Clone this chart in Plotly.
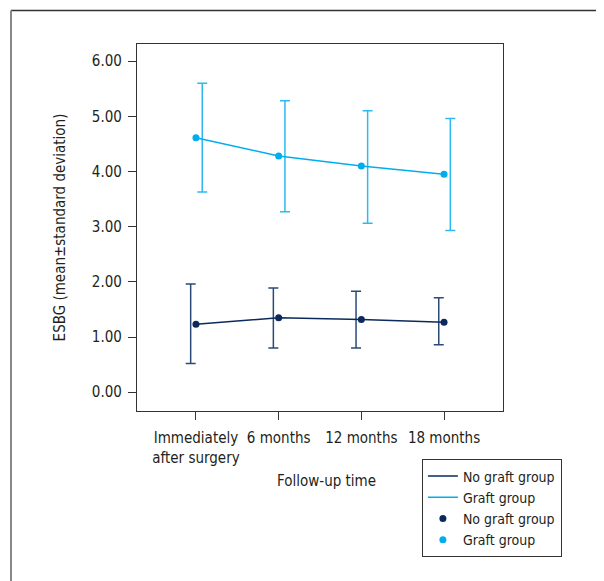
import plotly.graph_objects as go

categories = ["Immediately<br>after surgery", "6 months", "12 months", "18 months"]
no_graft_mean = [1.23, 1.35, 1.32, 1.27]
no_graft_sd_plus = [0.73, 0.54, 0.51, 0.44]
no_graft_sd_minus = [0.71, 0.55, 0.52, 0.41]
graft_mean = [4.61, 4.28, 4.10, 3.95]
graft_sd_plus = [0.99, 1.00, 1.00, 1.01]
graft_sd_minus = [0.98, 1.01, 1.04, 1.02]
y_ticks = [0, 1, 2, 3, 4, 5, 6]
y_tick_labels = ["0.00", "1.00", "2.00", "3.00", "4.00", "5.00", "6.00"]

NAVY = "#0B2A5B"
NAVY_ERR = "#2B4A78"
BLUE = "#00AEEF"
BLUE_ERR = "#2DBAF0"
FONT = "Liberation Sans Narrow, DejaVu Sans Condensed, Arial Narrow, sans-serif"

# page body has an 8px margin; shift everything by it
OFF = 8
W, H = 604 - OFF, 581 - OFF
L = 137 - OFF
T = 44 - OFF
PW, PH = 366, 367

def px(xv):
    return (xv - OFF - L) / PW

def py(yv):
    return 1 - (yv - OFF - T) / PH

x = list(range(len(categories)))
dodge_no = -0.064
dodge_g = 0.076

fig = go.Figure()
fig.add_trace(go.Scatter(
    x=[v + dodge_no for v in x], y=no_graft_mean, mode="markers",
    marker=dict(size=1, opacity=0), showlegend=False, hoverinfo="skip",
    error_y=dict(type="data", symmetric=False, array=no_graft_sd_plus,
                 arrayminus=no_graft_sd_minus, color=NAVY_ERR, thickness=1.5, width=5)))
fig.add_trace(go.Scatter(
    x=[v + dodge_g for v in x], y=graft_mean, mode="markers",
    marker=dict(size=1, opacity=0), showlegend=False, hoverinfo="skip",
    error_y=dict(type="data", symmetric=False, array=graft_sd_plus,
                 arrayminus=graft_sd_minus, color=BLUE_ERR, thickness=1.5, width=5)))
fig.add_trace(go.Scatter(x=x, y=no_graft_mean, mode="lines", name="No graft group",
                         line=dict(color=NAVY, width=1.5)))
fig.add_trace(go.Scatter(x=x, y=graft_mean, mode="lines", name="Graft group",
                         line=dict(color=BLUE, width=1.5)))
fig.add_trace(go.Scatter(x=x, y=no_graft_mean, mode="markers", name="No graft group",
                         marker=dict(color=NAVY, size=7)))
fig.add_trace(go.Scatter(x=x, y=graft_mean, mode="markers", name="Graft group",
                         marker=dict(color=BLUE, size=7)))

axis_common = dict(showgrid=False, zeroline=False, showline=True, linecolor="#333333",
                   linewidth=1.2, mirror=True, ticks="outside", ticklen=8,
                   tickcolor="#333333", tickwidth=1,
                   tickfont=dict(family=FONT, size=15, color="#231F20"))

fig.update_layout(
    width=W, height=H,
    margin=dict(l=L, r=W - L - PW, t=T, b=H - T - PH),
    paper_bgcolor="white", plot_bgcolor="white",
    font=dict(family=FONT, size=15, color="#231F20"),
    xaxis=dict(range=[-0.713, 3.713], tickvals=x, ticktext=categories,
               ticklabelstandoff=5, **axis_common),
    yaxis=dict(range=[-0.34, 6.31], tickvals=y_ticks, ticktext=y_tick_labels,
               ticklabelstandoff=3,
               title=dict(text="ESBG (mean±standard deviation)",
                          font=dict(family=FONT, size=15), standoff=22),
               **axis_common),
    legend=dict(x=px(421.7), y=py(459.3),
                xanchor="left", yanchor="top",
                bordercolor="#333333", borderwidth=1.2, bgcolor="white",
                font=dict(family=FONT, size=14, color="#231F20"),
                itemwidth=30, tracegroupgap=0),
    annotations=[dict(text="Follow-up time", xref="paper", yref="paper",
                      x=px(326.5), y=py(481),
                      xanchor="center", yanchor="middle", showarrow=False,
                      font=dict(family=FONT, size=15, color="#231F20"))],
    shapes=[
        dict(type="line", xref="paper", yref="paper",
             x0=px(11), x1=px(640), y0=py(10.5), y1=py(10.5),
             line=dict(color="#333333", width=1.5)),
        dict(type="line", xref="paper", yref="paper",
             x0=px(11), x1=px(11), y0=py(10.5), y1=py(640),
             line=dict(color="#888888", width=2)),
    ],
)

fig.write_html("out.html")
